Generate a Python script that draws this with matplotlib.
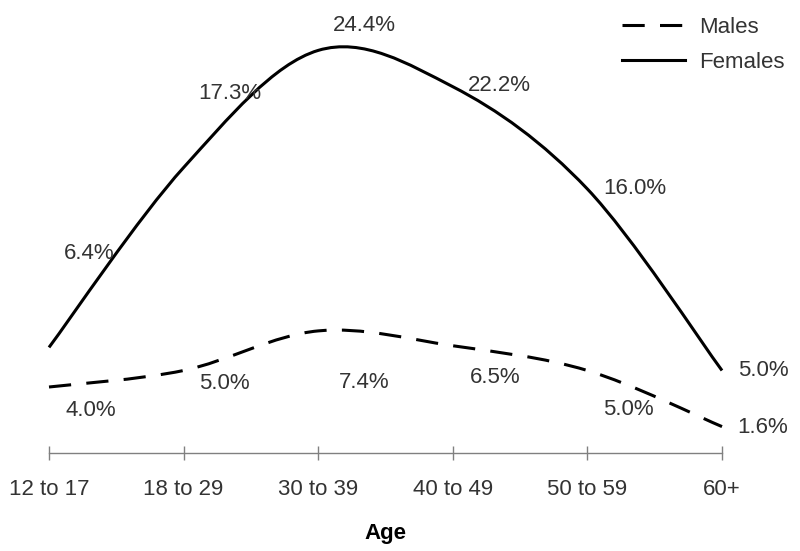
import matplotlib
matplotlib.use('Agg')
import matplotlib.pyplot as plt
from matplotlib.path import Path
from matplotlib.patches import PathPatch
from matplotlib.lines import Line2D

plt.rcParams['font.family'] = ['Liberation Sans', 'DejaVu Sans']
plt.rcParams['lines.scale_dashes'] = False

age_groups = ['12 to 17', '18 to 29', '30 to 39', '40 to 49', '50 to 59', '60+']
males = [4.0, 5.0, 7.4, 6.5, 5.0, 1.6]
females = [6.4, 17.3, 24.4, 22.2, 16.0, 5.0]

# label offsets in pixels (dx, dy) relative to each point
female_offsets = [(40, 94), (46, 74), (46, 25), (47, 1), (47, 0), (41, 0)]
male_offsets = [(42, -24), (41, -13), (46, -52), (42, -32), (41, -39), (41, -1)]

text_color = '#333333'
dash_style = (0, (16, 11))


def smooth_path(xs, ys):
    # excel-style smoothed line: cubic bezier through each point
    pts = list(zip(xs, ys))
    n = len(pts)
    verts = [pts[0]]
    codes = [Path.MOVETO]
    for i in range(n - 1):
        p0 = pts[max(i - 1, 0)]
        p1 = pts[i]
        p2 = pts[i + 1]
        p3 = pts[min(i + 2, n - 1)]
        c1 = (p1[0] + (p2[0] - p0[0]) / 6, p1[1] + (p2[1] - p0[1]) / 6)
        c2 = (p2[0] - (p3[0] - p1[0]) / 6, p2[1] - (p3[1] - p1[1]) / 6)
        verts += [c1, c2, p2]
        codes += [Path.CURVE4] * 3
    return Path(verts, codes)


fig = plt.figure(figsize=(8, 5.51), dpi=100)
ax = fig.add_axes([49 / 800, 98 / 551, 673 / 800, 429 / 551])

x = list(range(len(age_groups)))

ax.add_patch(PathPatch(smooth_path(x, females), fill=False, edgecolor='black',
                       linewidth=2.2, clip_on=False, capstyle='butt'))
ax.add_patch(PathPatch(smooth_path(x, males), fill=False, edgecolor='black',
                       linewidth=2.2, linestyle=dash_style, clip_on=False))

for i, v in enumerate(females):
    ax.annotate(f'{v:.1f}%', xy=(i, v), xytext=female_offsets[i], textcoords='offset pixels',
                ha='center', va='center', fontsize=16, color=text_color, annotation_clip=False)
for i, v in enumerate(males):
    ax.annotate(f'{v:.1f}%', xy=(i, v), xytext=male_offsets[i], textcoords='offset pixels',
                ha='center', va='center', fontsize=16, color=text_color, annotation_clip=False)

ax.set_xlim(0, 5)
ax.set_ylim(0, 26)
ax.set_xticks(x)
ax.set_xticklabels(age_groups, fontsize=16, color=text_color)
ax.set_yticks([])
for s in ['left', 'right', 'top']:
    ax.spines[s].set_visible(False)
ax.spines['bottom'].set_color('#808080')
ax.spines['bottom'].set_linewidth(1)
ax.tick_params(axis='x', direction='inout', length=10, width=1, color='#808080', pad=14)
ax.set_xlabel('Age', fontsize=16, fontweight='bold', color='black', labelpad=16)

handles = [Line2D([], [], color='black', linewidth=2.2, linestyle=dash_style),
           Line2D([], [], color='black', linewidth=2.2)]
fig.legend(handles, ['Males', 'Females'], loc='upper left',
           bbox_to_anchor=(622 / 800, 1 - 17 / 551), frameon=False, fontsize=16,
           handlelength=2.85, handletextpad=0.6, labelspacing=0.64,
           borderpad=0, borderaxespad=0, labelcolor=text_color)

fig.savefig('out.png', dpi=100)
